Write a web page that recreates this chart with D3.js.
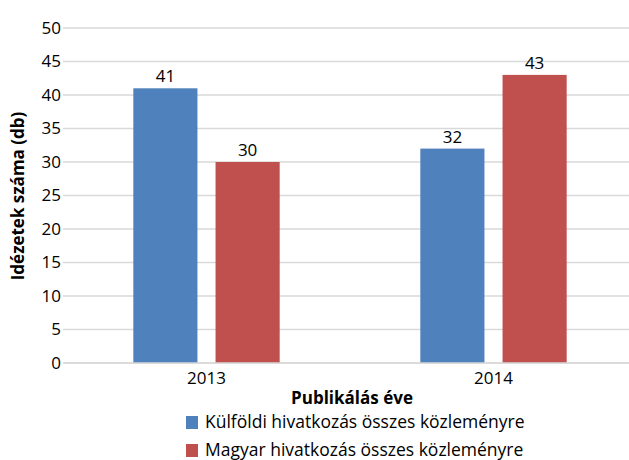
<html>
<head>
<meta charset="utf-8">
<script src="https://cdn.jsdelivr.net/npm/d3@7"></script>
<style>
  body { margin: 0; background: white; }
  text { font-family: "Open Sans", sans-serif; fill: #000; }
</style>
</head>
<body>
<div id="chart"></div>
<script>
// adatok
var years = ["2013", "2014"];
var seriesNames = ["Külföldi hivatkozás összes közleményre", "Magyar hivatkozás összes közleményre"];
var kulfoldi = [41, 32];
var magyar = [30, 43];
var yTicks = [0, 5, 10, 15, 20, 25, 30, 35, 40, 45, 50];
var colors = ["#4f81bd", "#c0504d"];

var width = 629, height = 460;
var fs = "17px";
var svg = d3.select("#chart").append("svg")
	.attr("width", width).attr("height", height);

var x = d3.scaleBand().domain(years).range([63, 637]).paddingInner(0.49).paddingOuter(0.245);
var x1 = d3.scaleBand().domain([0, 1]).range([0, x.bandwidth()]).paddingInner(0.22);
var y = d3.scaleLinear().domain([0, 50]).range([363, 28]);

// racsvonalak
svg.append("g").selectAll("line").data(yTicks).enter().append("line")
	.attr("x1", 63).attr("x2", width)
	.attr("y1", function(d) { return y(d); }).attr("y2", function(d) { return y(d); })
	.attr("stroke", "#d9d9d9").attr("stroke-width", 1.5);

// y tengely feliratok
var yAxis = svg.append("g").attr("transform", "translate(63,0)")
	.call(d3.axisLeft(y).tickValues(yTicks).tickSize(0).tickPadding(2));
yAxis.select(".domain").remove();
yAxis.selectAll("text").attr("font-size", fs).attr("font-family", "Open Sans, sans-serif").attr("fill", "#000");

// oszlopok
var data = [kulfoldi, magyar];
data.forEach(function(vals, si) {
	var g = svg.append("g");
	g.selectAll("rect").data(vals).enter().append("rect")
		.attr("x", function(d, i) { return x(years[i]) + x1(si); })
		.attr("y", function(d) { return y(d); })
		.attr("width", x1.bandwidth())
		.attr("height", function(d) { return y(0) - y(d); })
		.attr("fill", colors[si]);
	g.selectAll("text").data(vals).enter().append("text")
		.attr("x", function(d, i) { return x(years[i]) + x1(si) + x1.bandwidth() / 2; })
		.attr("y", function(d) { return y(d) - 6; })
		.attr("text-anchor", "middle")
		.attr("font-size", fs)
		.text(function(d) { return d; });
});

// x tengely
svg.append("line").attr("x1", 63).attr("x2", width).attr("y1", y(0)).attr("y2", y(0))
	.attr("stroke", "#d9d9d9").attr("stroke-width", 1.5);
var xAxis = svg.append("g").attr("transform", "translate(0," + y(0) + ")")
	.call(d3.axisBottom(x).tickSize(0).tickPadding(9));
xAxis.select(".domain").remove();
xAxis.selectAll("text").attr("font-size", fs).attr("font-family", "Open Sans, sans-serif").attr("fill", "#000");

// tengelycimek
svg.append("text").attr("x", 352).attr("y", 404).attr("text-anchor", "middle")
	.attr("font-size", fs).attr("font-weight", "bold").text("Publikálás éve");
svg.append("text").attr("transform", "translate(24,196) rotate(-90)").attr("text-anchor", "middle")
	.attr("font-size", fs).attr("font-weight", "bold").text("Idézetek száma (db)");

// jelmagyarazat
var legend = svg.append("g").selectAll("g").data(seriesNames).enter().append("g")
	.attr("transform", function(d, i) { return "translate(186," + (416 + i * 28) + ")"; });
legend.append("rect").attr("width", 12).attr("height", 13)
	.attr("fill", function(d, i) { return colors[i]; });
legend.append("text").attr("x", 19).attr("y", 12).attr("font-size", "17.5px")
	.text(function(d) { return d; });
</script>
</body>
</html>
